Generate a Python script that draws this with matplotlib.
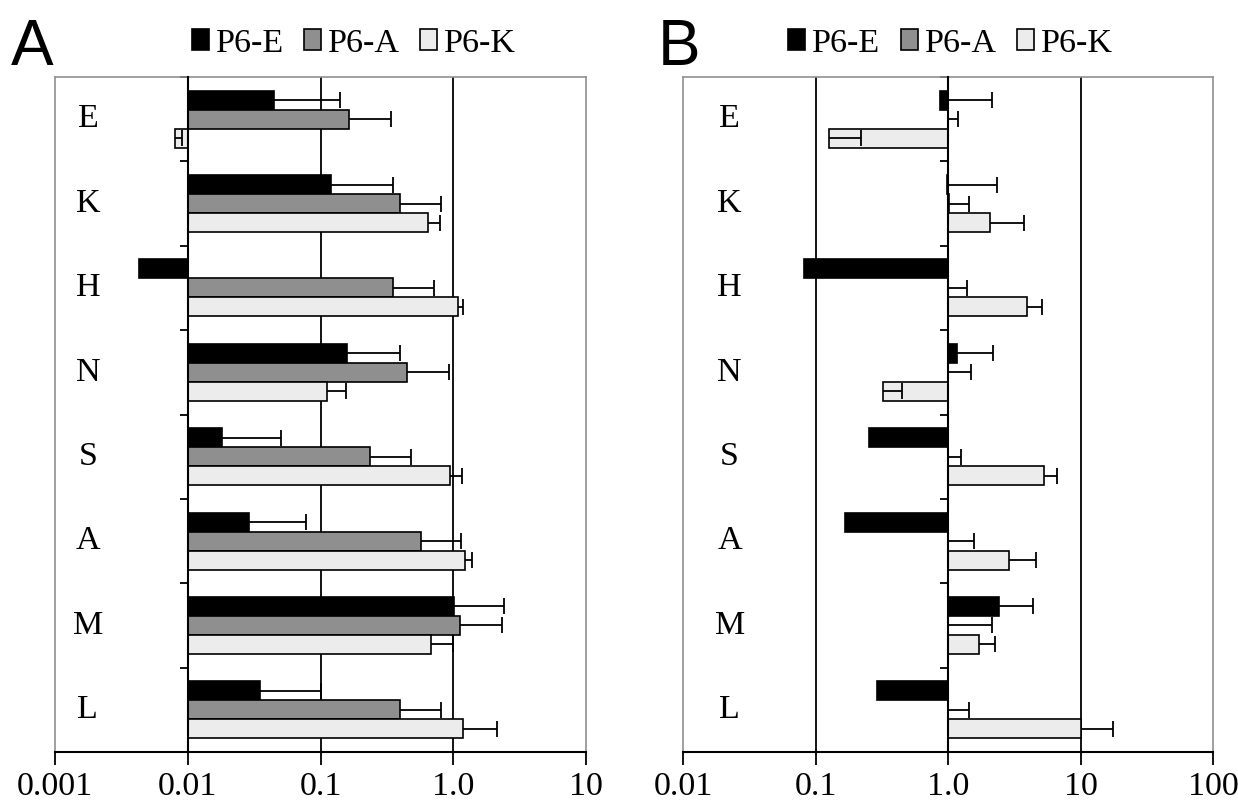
import numpy as np
import matplotlib
matplotlib.use('Agg')
from matplotlib import pyplot as plt
from matplotlib import transforms
from matplotlib.ticker import NullLocator

categories = ['E', 'K', 'H', 'N', 'S', 'A', 'M', 'L']
series = ['P6-E', 'P6-A', 'P6-K']
colors = ['black', '#8f8f8f', '#ececec']

# panel A (values, + error)
a_e = [0.045, 0.12, 0.0043, 0.157, 0.018, 0.029, 1.01, 0.035]
a_e_err = [0.095, 0.23, None, 0.243, 0.032, 0.049, 1.39, 0.065]
a_a = [0.165, 0.40, 0.35, 0.45, 0.236, 0.57, 1.12, 0.40]
a_a_err = [0.175, 0.41, 0.37, 0.48, 0.248, 0.58, 1.2, 0.41]
a_k = [0.008, 0.65, 1.09, 0.111, 0.95, 1.23, 0.68, 1.19]
a_k_err = [0.001, 0.14, 0.10, 0.044, 0.21, 0.16, 0.32, 0.95]

# panel B
b_e = [0.87, 0.98, 0.082, 1.16, 0.254, 0.168, 2.44, 0.291]
b_e_err = [1.29, 1.36, None, 1.03, None, None, 1.93, None]
b_a = [1.0, 1.02, 1.0, 1.0, 1.0, 1.0, 1.0, 1.0]
b_a_err = [0.19, 0.43, 0.40, 0.50, 0.26, 0.58, 1.16, 0.43]
b_k = [0.127, 2.08, 3.94, 0.323, 5.26, 2.87, 1.70, 10.0]
b_k_err = [0.094, 1.65, 1.21, 0.128, 1.42, 1.78, 0.56, 7.5]

a_ticks = [0.001, 0.01, 0.1, 1.0, 10]
a_labels = ['0.001', '0.01', '0.1', '1.0', '10']
b_ticks = [0.01, 0.1, 1.0, 10, 100]
b_labels = ['0.01', '0.1', '1.0', '10', '100']

SERIF = 'Liberation Serif'
FS = 24.5


def draw_panel(ax, data, base, ticks, labels, label_x, legend_x):
    y = np.arange(len(categories))
    h = 0.225
    for i, (vals, errs) in enumerate(data):
        pos = y + (i - 1) * h
        vals = np.array(vals, dtype=float)
        ax.barh(pos, vals - base, left=base, height=h, color=colors[i],
                edgecolor='k', linewidth=1.2, label=series[i], zorder=2)
        errs = np.array([np.nan if e is None else e for e in errs])
        m = ~np.isnan(errs)
        _, caps, _ = ax.errorbar(vals[m], pos[m], xerr=[np.zeros(m.sum()), errs[m]],
                                 fmt='none', ecolor='k', elinewidth=1.3,
                                 capsize=6, capthick=1.3, zorder=3)
        caps[0].set_visible(False)

    ax.set_xscale('log')
    ax.set_xlim(ticks[0], ticks[-1])
    ax.set_ylim(7.5, -0.5)
    ax.set_xticks(ticks)
    ax.set_xticklabels(labels, fontsize=FS, family=SERIF)
    ax.xaxis.set_minor_locator(NullLocator())
    ax.tick_params(axis='x', length=9, width=1.3, pad=5, direction='out')

    # vertical gridlines on the inner decades
    for t in ticks[1:-1]:
        if t != base:
            ax.axvline(t, color='k', lw=1.3, zorder=1)

    # category axis crosses at base
    ax.spines['left'].set_position(('data', base))
    ax.spines['left'].set_color('k')
    ax.spines['left'].set_linewidth(1.5)
    ax.spines['left'].set_zorder(4)
    ax.set_yticks(np.arange(-0.5, 8.0, 1.0))
    ax.tick_params(axis='y', length=6, width=1.3, direction='out', labelleft=False)
    for s in ['top', 'right']:
        ax.spines[s].set_color('#909090')
        ax.spines[s].set_linewidth(1.2)
    ax.spines['bottom'].set_color('k')
    ax.spines['bottom'].set_linewidth(1.5)
    ax.axvline(ticks[0], color='#909090', lw=1.2, clip_on=False)

    trans = transforms.blended_transform_factory(ax.transAxes, ax.transData)
    for c, yy in zip(categories, y):
        ax.text(label_x, yy, c, transform=trans, ha='center', va='center',
                fontsize=FS, family=SERIF)

    ax.legend(loc='center', bbox_to_anchor=(legend_x, 1.05), ncol=3, frameon=False,
              prop={'family': SERIF, 'size': FS}, handlelength=0.5, handleheight=0.55,
              handletextpad=0.2, columnspacing=0.6, borderaxespad=0)


fig = plt.figure(figsize=(12.38, 8.11), dpi=100)
axA = fig.add_axes([55 / 1238, 1 - 752 / 811, 531 / 1238, 675 / 811])
axB = fig.add_axes([683 / 1238, 1 - 752 / 811, 530 / 1238, 675 / 811])

draw_panel(axA, [(a_e, a_e_err), (a_a, a_a_err), (a_k, a_k_err)], 0.01,
           a_ticks, a_labels, 0.062, 0.563)
draw_panel(axB, [(b_e, b_e_err), (b_a, b_a_err), (b_k, b_k_err)], 1.0,
           b_ticks, b_labels, 0.088, 0.505)

fig.text(11 / 1238, 0.978, 'A', fontsize=46, family='Liberation Sans', va='top', ha='left')
fig.text(658 / 1238, 0.978, 'B', fontsize=46, family='Liberation Sans', va='top', ha='left')

fig.savefig('out.png', dpi=100)
